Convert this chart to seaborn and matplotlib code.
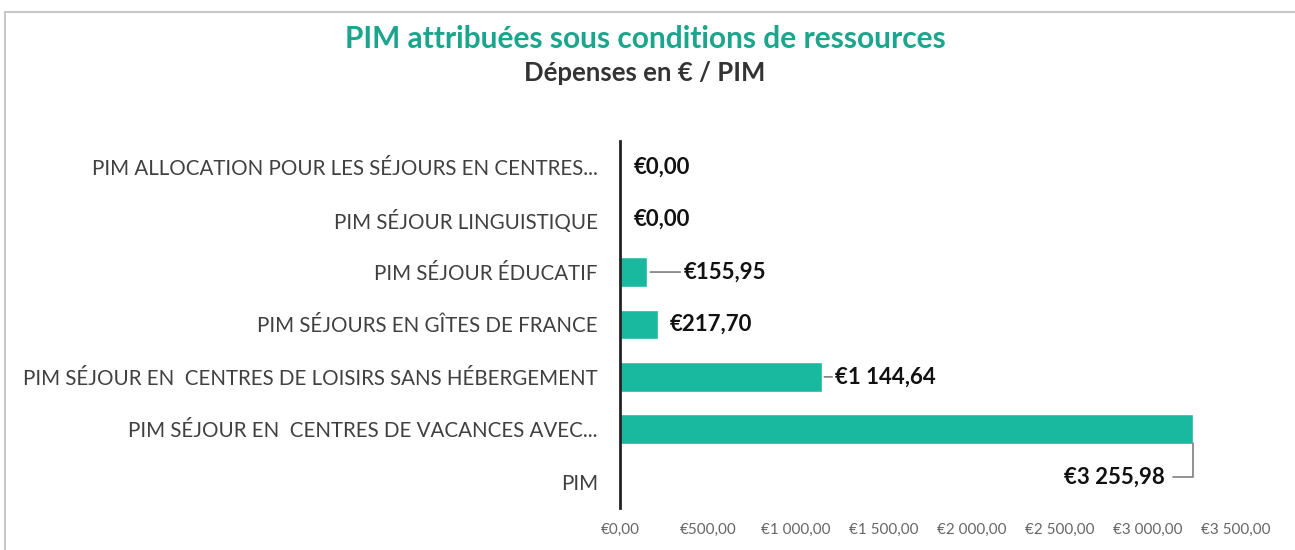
import numpy as np
import pandas as pd
import matplotlib
matplotlib.use("Agg")
import matplotlib.pyplot as plt
import seaborn as sns
from matplotlib.patches import Rectangle

# Dépenses moyennes par prestation (en €)
categories = [
    "PIM ALLOCATION POUR LES SÉJOURS EN CENTRES...",
    "PIM SÉJOUR LINGUISTIQUE",
    "PIM SÉJOUR ÉDUCATIF",
    "PIM SÉJOURS EN GÎTES DE FRANCE",
    "PIM SÉJOUR EN  CENTRES DE LOISIRS SANS HÉBERGEMENT",
    "PIM SÉJOUR EN  CENTRES DE VACANCES AVEC...",
    "PIM",
]
values = [0.00, 0.00, 155.95, 217.70, 1144.64, 3255.98, np.nan]
x_ticks = [0, 500, 1000, 1500, 2000, 2500, 3000, 3500]

title = "PIM attribuées sous conditions de ressources"
subtitle = "Dépenses en € / PIM"

TEAL = "#19B9A0"
TITLE_TEAL = "#1AA58C"


def euro(v):
    s = f"{v:,.2f}".replace(",", " ").replace(".", ",")
    return "€" + s


sns.set_theme(style="white")
plt.rcParams["font.family"] = ["Lato", "DejaVu Sans"]

df = pd.DataFrame({"categorie": categories, "depense": values})

fig = plt.figure(figsize=(12.95, 5.5), dpi=100)
ax = fig.add_axes([0.4788, 0.0764, 0.4757, 0.6673])

sns.barplot(data=df, y="categorie", x="depense", order=categories,
            color=TEAL, saturation=1, width=0.57, orient="h", ax=ax)

ax.set_xlim(0, 3500)
ax.set_ylim(len(categories) - 0.5, -0.5)
ax.set_xlabel("")
ax.set_ylabel("")
ax.set_xticks(x_ticks)
ax.set_xticklabels([euro(t) for t in x_ticks], fontsize=11, color="#666666")
ax.tick_params(axis="x", length=0, pad=11)
ax.tick_params(axis="y", length=0, pad=16, labelsize=14.8, labelcolor="#404040")

for side in ["top", "right", "bottom"]:
    ax.spines[side].set_visible(False)
ax.spines["left"].set_color("#222222")
ax.spines["left"].set_linewidth(2)

lbl = dict(fontsize=16, fontweight="bold", color="#111111", va="center")
line = dict(arrowstyle="-", color="#7f7f7f", lw=1.2, shrinkA=0, shrinkB=2)

# Étiquettes de valeur
for i, v in enumerate(values):
    if np.isnan(v):
        continue
    if i in (0, 1):
        ax.annotate(euro(v), xy=(v, i), xytext=(10, 0),
                    textcoords="offset points", ha="left", **lbl)
    elif i == 2:
        ax.annotate(euro(v), xy=(v, i), xytext=(26, 0),
                    textcoords="offset points", ha="left",
                    arrowprops=line, **lbl)
    elif i == 3:
        ax.annotate(euro(v), xy=(v, i), xytext=(8, 0),
                    textcoords="offset points", ha="left", **lbl)
    elif i == 4:
        ax.annotate(euro(v), xy=(v, i), xytext=(10, 0),
                    textcoords="offset points", ha="left",
                    arrowprops=line, **lbl)
    else:
        ax.annotate(euro(v), xy=(v, i + 0.27), xytext=(-20, -24),
                    textcoords="offset points", ha="right",
                    arrowprops=dict(arrowstyle="-", color="#7f7f7f", lw=1.2,
                                    shrinkA=3, shrinkB=0,
                                    connectionstyle="angle,angleA=0,angleB=90,rad=0"),
                    **lbl)

fig.text(0.498, 0.93, title, ha="center", va="center", fontsize=21.5,
         fontweight="bold", color=TITLE_TEAL)
fig.text(0.498, 0.868, subtitle, ha="center", va="center", fontsize=18.5,
         fontweight="bold", color="#333333")

# Cadre du graphique
fig.patches.append(Rectangle((0.004, -0.01), 1.1, 0.988, transform=fig.transFigure,
                             fill=False, edgecolor="#c8c8c8", lw=1.5))

fig.savefig("out.png", dpi=100, facecolor="white")
